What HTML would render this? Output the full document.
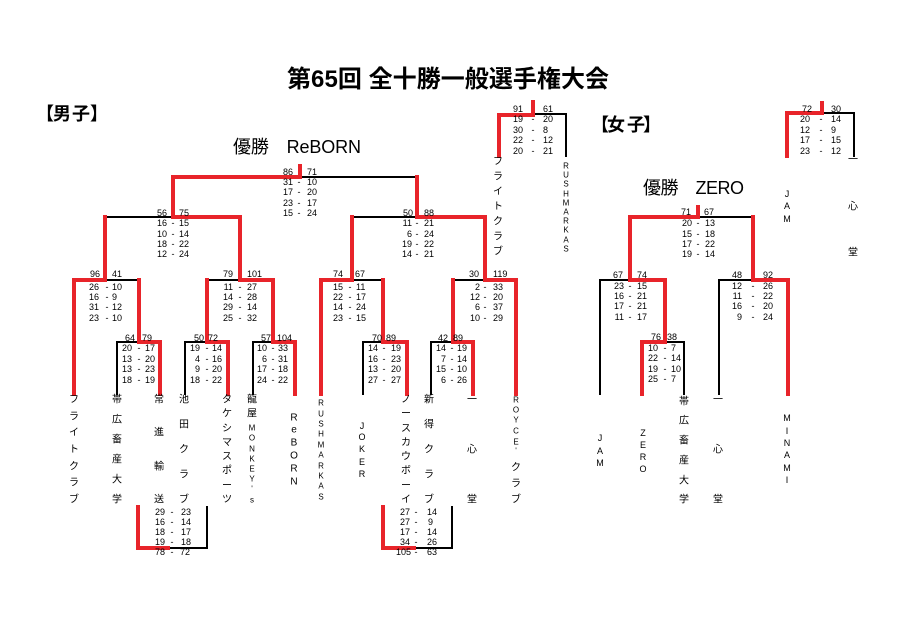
<!DOCTYPE html>
<html><head><meta charset="utf-8"><style>
html,body{margin:0;padding:0;background:#fff;}
svg{display:block;}
.n{font-family:"Liberation Sans",sans-serif;font-size:9px;fill:#000;}
.e{text-anchor:end}.m{text-anchor:middle}.s{text-anchor:start}
.v{font-family:"Liberation Sans","Noto Sans CJK JP",sans-serif;font-size:10px;text-anchor:middle;dominant-baseline:central;fill:#000;}
.vs{font-size:8px}.vm{font-size:9px}
.R{fill:none;stroke:#e8242a;stroke-width:4;stroke-linecap:square;stroke-linejoin:miter}
.K{fill:none;stroke:#000;stroke-width:2;stroke-linecap:square}
.t{font-family:"Liberation Sans","Noto Sans CJK JP",sans-serif;fill:#000;}
</style></head><body>
<svg width="900" height="636" viewBox="0 0 900 636" xmlns="http://www.w3.org/2000/svg">
<rect width="900" height="636" fill="#fff"/>

<text class="t" x="287" y="87" font-size="24" font-weight="bold" textLength="322">第65回 全十勝一般選手権大会</text>
<g class="t" font-size="18" font-weight="bold" text-anchor="middle">
<text x="45" y="120">【</text><text x="62" y="120">男</text><text x="81" y="120">子</text><text x="99" y="120">】</text>
<text x="600" y="131">【</text><text x="616" y="131">女</text><text x="636" y="131">子</text><text x="652" y="131">】</text>
</g>
<text class="t" x="233" y="153" font-size="18" textLength="128">優勝　ReBORN</text>
<text class="t" x="643" y="194" font-size="18" textLength="101">優勝　ZERO</text>

<g class="K">
<path d="M300 177 H417"/>
<path d="M105 217 H173"/>
<path d="M352 217 H417"/>
<path d="M105 280 H139"/>
<path d="M207 280 H240"/>
<path d="M351 280 H383"/>
<path d="M453 280 H485"/>
<path d="M117 394 V342 H139"/>
<path d="M185 394 V342 H207"/>
<path d="M253 394 V342 H273"/>
<path d="M363 394 V342 H383"/>
<path d="M431 394 V342 H453"/>
<path d="M533 114 H566 V156"/>
<path d="M168 548 H207 V507"/>
<path d="M414 548 H452 V507"/>
<path d="M698 217 H753"/>
<path d="M600 394 V280 H630"/>
<path d="M665 342 H684 V394"/>
<path d="M719 394 V280 H753"/>
<path d="M822 113 H854 V156"/>
</g>
<g class="R">
<path d="M300 166 V177 H173 V217 H240 V280 H273 V342 H295 V394"/>
<path d="M417 177 V217 H485 V280 H516 V394"/>
<path d="M352 217 V280 H321 V394"/>
<path d="M105 217 V280 H74 V394"/>
<path d="M139 280 V342 H160 V394"/>
<path d="M207 280 V342 H228 V394"/>
<path d="M383 280 V342 H407 V394"/>
<path d="M453 280 V342 H473 V394"/>
<path d="M533 102 V115 H499 V156"/>
<path d="M138 507 V548 H168"/>
<path d="M383 507 V548 H414"/>
<path d="M698 207 V217 H630 V280 H665 V342 H642 V394"/>
<path d="M753 217 V280 H788 V394"/>
<path d="M822 103 V113 H787 V156"/>
</g>

<g class="n">
<text class="e" x="293" y="175">86</text><text class="s" x="307" y="175">71</text>
<text class="e" x="293" y="185">31</text><text class="m" x="299" y="185">-</text><text class="s" x="307" y="185">10</text>
<text class="e" x="293" y="195">17</text><text class="m" x="299" y="195">-</text><text class="s" x="307" y="195">20</text>
<text class="e" x="293" y="206">23</text><text class="m" x="299" y="206">-</text><text class="s" x="307" y="206">17</text>
<text class="e" x="293" y="216">15</text><text class="m" x="299" y="216">-</text><text class="s" x="307" y="216">24</text>

<text class="e" x="167" y="216">56</text><text class="s" x="179" y="216">75</text>
<text class="e" x="167" y="226">16</text><text class="m" x="173" y="226">-</text><text class="s" x="179" y="226">15</text>
<text class="e" x="167" y="237">10</text><text class="m" x="173" y="237">-</text><text class="s" x="179" y="237">14</text>
<text class="e" x="167" y="247">18</text><text class="m" x="173" y="247">-</text><text class="s" x="179" y="247">22</text>
<text class="e" x="167" y="257">12</text><text class="m" x="173" y="257">-</text><text class="s" x="179" y="257">24</text>

<text class="e" x="413" y="216">50</text><text class="s" x="424" y="216">88</text>
<text class="e" x="412" y="226">11</text><text class="m" x="417" y="226">-</text><text class="s" x="424" y="226">21</text>
<text class="e" x="412" y="237">6</text><text class="m" x="417" y="237">-</text><text class="s" x="424" y="237">24</text>
<text class="e" x="412" y="247">19</text><text class="m" x="417" y="247">-</text><text class="s" x="424" y="247">22</text>
<text class="e" x="412" y="257">14</text><text class="m" x="417" y="257">-</text><text class="s" x="424" y="257">21</text>

<text class="e" x="100" y="277">96</text><text class="s" x="112" y="277">41</text>
<text class="e" x="99" y="290">26</text><text class="m" x="107" y="290">-</text><text class="s" x="112" y="290">10</text>
<text class="e" x="99" y="300">16</text><text class="m" x="107" y="300">-</text><text class="s" x="112" y="300">9</text>
<text class="e" x="99" y="310">31</text><text class="m" x="107" y="310">-</text><text class="s" x="112" y="310">12</text>
<text class="e" x="99" y="321">23</text><text class="m" x="107" y="321">-</text><text class="s" x="112" y="321">10</text>

<text class="e" x="233" y="277">79</text><text class="s" x="247" y="277">101</text>
<text class="e" x="233" y="290">11</text><text class="m" x="240" y="290">-</text><text class="s" x="247" y="290">27</text>
<text class="e" x="233" y="300">14</text><text class="m" x="240" y="300">-</text><text class="s" x="247" y="300">28</text>
<text class="e" x="233" y="310">29</text><text class="m" x="240" y="310">-</text><text class="s" x="247" y="310">14</text>
<text class="e" x="233" y="321">25</text><text class="m" x="240" y="321">-</text><text class="s" x="247" y="321">32</text>

<text class="e" x="343" y="277">74</text><text class="s" x="355" y="277">67</text>
<text class="e" x="343" y="290">15</text><text class="m" x="350" y="290">-</text><text class="s" x="356" y="290">11</text>
<text class="e" x="343" y="300">22</text><text class="m" x="350" y="300">-</text><text class="s" x="356" y="300">17</text>
<text class="e" x="343" y="310">14</text><text class="m" x="350" y="310">-</text><text class="s" x="356" y="310">24</text>
<text class="e" x="343" y="321">23</text><text class="m" x="350" y="321">-</text><text class="s" x="356" y="321">15</text>

<text class="e" x="479" y="277">30</text><text class="s" x="493" y="277">119</text>
<text class="e" x="480" y="290">2</text><text class="m" x="485" y="290">-</text><text class="s" x="493" y="290">33</text>
<text class="e" x="480" y="300">12</text><text class="m" x="485" y="300">-</text><text class="s" x="493" y="300">20</text>
<text class="e" x="480" y="310">6</text><text class="m" x="485" y="310">-</text><text class="s" x="493" y="310">37</text>
<text class="e" x="480" y="321">10</text><text class="m" x="485" y="321">-</text><text class="s" x="493" y="321">29</text>

<text class="e" x="135" y="341">64</text><text class="s" x="142" y="341">79</text>
<text class="e" x="132" y="351">20</text><text class="m" x="139" y="351">-</text><text class="s" x="145" y="351">17</text>
<text class="e" x="132" y="362">13</text><text class="m" x="139" y="362">-</text><text class="s" x="145" y="362">20</text>
<text class="e" x="132" y="372">13</text><text class="m" x="139" y="372">-</text><text class="s" x="145" y="372">23</text>
<text class="e" x="132" y="383">18</text><text class="m" x="139" y="383">-</text><text class="s" x="145" y="383">19</text>

<text class="e" x="204" y="341">50</text><text class="s" x="208" y="341">72</text>
<text class="e" x="200" y="351">19</text><text class="m" x="207" y="351">-</text><text class="s" x="212" y="351">14</text>
<text class="e" x="200" y="362">4</text><text class="m" x="207" y="362">-</text><text class="s" x="212" y="362">16</text>
<text class="e" x="200" y="372">9</text><text class="m" x="207" y="372">-</text><text class="s" x="212" y="372">20</text>
<text class="e" x="200" y="383">18</text><text class="m" x="207" y="383">-</text><text class="s" x="212" y="383">22</text>

<text class="e" x="271" y="341">57</text><text class="s" x="277" y="341">104</text>
<text class="e" x="267" y="351">10</text><text class="m" x="273" y="351">-</text><text class="s" x="278" y="351">33</text>
<text class="e" x="267" y="362">6</text><text class="m" x="273" y="362">-</text><text class="s" x="278" y="362">31</text>
<text class="e" x="267" y="372">17</text><text class="m" x="273" y="372">-</text><text class="s" x="278" y="372">18</text>
<text class="e" x="267" y="383">24</text><text class="m" x="273" y="383">-</text><text class="s" x="278" y="383">22</text>

<text class="e" x="382" y="341">70</text><text class="s" x="386" y="341">89</text>
<text class="e" x="378" y="351">14</text><text class="m" x="384" y="351">-</text><text class="s" x="391" y="351">19</text>
<text class="e" x="378" y="362">16</text><text class="m" x="384" y="362">-</text><text class="s" x="391" y="362">23</text>
<text class="e" x="378" y="372">13</text><text class="m" x="384" y="372">-</text><text class="s" x="391" y="372">20</text>
<text class="e" x="378" y="383">27</text><text class="m" x="384" y="383">-</text><text class="s" x="391" y="383">27</text>

<text class="e" x="448" y="341">42</text><text class="s" x="453" y="341">89</text>
<text class="e" x="446" y="351">14</text><text class="m" x="452" y="351">-</text><text class="s" x="457" y="351">19</text>
<text class="e" x="446" y="362">7</text><text class="m" x="452" y="362">-</text><text class="s" x="457" y="362">14</text>
<text class="e" x="446" y="372">15</text><text class="m" x="452" y="372">-</text><text class="s" x="457" y="372">10</text>
<text class="e" x="446" y="383">6</text><text class="m" x="452" y="383">-</text><text class="s" x="457" y="383">26</text>

<text class="e" x="523" y="112">91</text><text class="s" x="543" y="112">61</text>
<text class="e" x="523" y="122">19</text><text class="m" x="533" y="122">-</text><text class="s" x="543" y="122">20</text>
<text class="e" x="523" y="133">30</text><text class="m" x="533" y="133">-</text><text class="s" x="543" y="133">8</text>
<text class="e" x="523" y="143">22</text><text class="m" x="533" y="143">-</text><text class="s" x="543" y="143">12</text>
<text class="e" x="523" y="154">20</text><text class="m" x="533" y="154">-</text><text class="s" x="543" y="154">21</text>

<text class="e" x="165" y="515">29</text><text class="m" x="172" y="515">-</text><text class="s" x="181" y="515">23</text>
<text class="e" x="165" y="525">16</text><text class="m" x="172" y="525">-</text><text class="s" x="181" y="525">14</text>
<text class="e" x="165" y="535">18</text><text class="m" x="172" y="535">-</text><text class="s" x="181" y="535">17</text>
<text class="e" x="165" y="545">19</text><text class="m" x="172" y="545">-</text><text class="s" x="181" y="545">18</text>
<text class="e" x="165" y="555">78</text><text class="m" x="172" y="555">-</text><text class="s" x="180" y="555">72</text>

<text class="e" x="410" y="515">27</text><text class="m" x="416" y="515">-</text><text class="s" x="427" y="515">14</text>
<text class="e" x="410" y="525">27</text><text class="m" x="416" y="525">-</text><text class="s" x="428" y="525">9</text>
<text class="e" x="410" y="535">17</text><text class="m" x="416" y="535">-</text><text class="s" x="427" y="535">14</text>
<text class="e" x="410" y="545">34</text><text class="m" x="416" y="545">-</text><text class="s" x="427" y="545">26</text>
<text class="e" x="411" y="555">105</text><text class="m" x="416" y="555">-</text><text class="s" x="427" y="555">63</text>

<text class="e" x="812" y="112">72</text><text class="s" x="831" y="112">30</text>
<text class="e" x="810" y="122">20</text><text class="m" x="821" y="122">-</text><text class="s" x="831" y="122">14</text>
<text class="e" x="810" y="133">12</text><text class="m" x="821" y="133">-</text><text class="s" x="831" y="133">9</text>
<text class="e" x="810" y="143">17</text><text class="m" x="821" y="143">-</text><text class="s" x="831" y="143">15</text>
<text class="e" x="810" y="154">23</text><text class="m" x="821" y="154">-</text><text class="s" x="831" y="154">12</text>

<text class="e" x="691" y="215">71</text><text class="s" x="704" y="215">67</text>
<text class="e" x="692" y="226">20</text><text class="m" x="698" y="226">-</text><text class="s" x="705" y="226">13</text>
<text class="e" x="692" y="237">15</text><text class="m" x="698" y="237">-</text><text class="s" x="705" y="237">18</text>
<text class="e" x="692" y="247">17</text><text class="m" x="698" y="247">-</text><text class="s" x="705" y="247">22</text>
<text class="e" x="692" y="257">19</text><text class="m" x="698" y="257">-</text><text class="s" x="705" y="257">14</text>

<text class="e" x="623" y="278">67</text><text class="s" x="637" y="278">74</text>
<text class="e" x="624" y="289">23</text><text class="m" x="630" y="289">-</text><text class="s" x="637" y="289">15</text>
<text class="e" x="624" y="299">16</text><text class="m" x="630" y="299">-</text><text class="s" x="637" y="299">21</text>
<text class="e" x="624" y="309">17</text><text class="m" x="630" y="309">-</text><text class="s" x="637" y="309">21</text>
<text class="e" x="624" y="320">11</text><text class="m" x="630" y="320">-</text><text class="s" x="637" y="320">17</text>

<text class="e" x="661" y="340">76</text><text class="s" x="667" y="340">38</text>
<text class="e" x="658" y="351">10</text><text class="m" x="665" y="351">-</text><text class="s" x="671" y="351">7</text>
<text class="e" x="658" y="361">22</text><text class="m" x="665" y="361">-</text><text class="s" x="671" y="361">14</text>
<text class="e" x="658" y="372">19</text><text class="m" x="665" y="372">-</text><text class="s" x="671" y="372">10</text>
<text class="e" x="658" y="382">25</text><text class="m" x="665" y="382">-</text><text class="s" x="671" y="382">7</text>

<text class="e" x="742" y="278">48</text><text class="s" x="763" y="278">92</text>
<text class="e" x="742" y="289">12</text><text class="m" x="753" y="289">-</text><text class="s" x="763" y="289">26</text>
<text class="e" x="742" y="299">11</text><text class="m" x="753" y="299">-</text><text class="s" x="763" y="299">22</text>
<text class="e" x="742" y="309">16</text><text class="m" x="753" y="309">-</text><text class="s" x="763" y="309">20</text>
<text class="e" x="742" y="320">9</text><text class="m" x="753" y="320">-</text><text class="s" x="763" y="320">24</text>
</g>

<g class="v">
<text x="74" y="400">フ</text><text x="74" y="417">ラ</text><text x="74" y="433">イ</text><text x="74" y="450">ト</text><text x="74" y="467">ク</text><text x="74" y="483">ラ</text><text x="74" y="500">ブ</text>
<text x="117" y="400">帯</text><text x="117" y="420">広</text><text x="117" y="440">畜</text><text x="117" y="460">産</text><text x="117" y="480">大</text><text x="117" y="500">学</text>
<text x="159" y="400">常</text><text x="159" y="433">進</text><text x="159" y="467">輸</text><text x="159" y="500">送</text>
<text x="184" y="400">池</text><text x="184" y="425">田</text><text x="184" y="450">ク</text><text x="184" y="475">ラ</text><text x="184" y="500">ブ</text>
<text x="227" y="400">タ</text><text x="227" y="414">ケ</text><text x="227" y="429">シ</text><text x="227" y="443">マ</text><text x="227" y="457">ス</text><text x="227" y="471">ポ</text><text x="227" y="486">ー</text><text x="227" y="500">ツ</text>
<text x="252" y="400">龍</text><text x="252" y="414">屋</text>
<text class="vs" x="252" y="428">M</text><text class="vs" x="252" y="438">O</text><text class="vs" x="252" y="449">N</text><text class="vs" x="252" y="459">K</text><text class="vs" x="252" y="469">E</text><text class="vs" x="252" y="479">Y</text><text class="vs" x="252" y="489">'</text><text class="vs" x="252" y="500">s</text>
<text x="294" y="418">R</text><text x="294" y="430">e</text><text x="294" y="443">B</text><text x="294" y="456">O</text><text x="294" y="469">R</text><text x="294" y="482">N</text>
<text class="vs" x="321" y="403">R</text><text class="vs" x="321" y="414">U</text><text class="vs" x="321" y="424">S</text><text class="vs" x="321" y="434">H</text><text class="vs" x="321" y="445">M</text><text class="vs" x="321" y="455">A</text><text class="vs" x="321" y="466">R</text><text class="vs" x="321" y="476">K</text><text class="vs" x="321" y="486">A</text><text class="vs" x="321" y="497">S</text>
<text class="vm" x="362" y="426">J</text><text class="vm" x="362" y="437">O</text><text class="vm" x="362" y="449">K</text><text class="vm" x="362" y="462">E</text><text class="vm" x="362" y="474">R</text>
<text x="406" y="400">ノ</text><text x="406" y="414">ー</text><text x="406" y="429">ス</text><text x="406" y="443">カ</text><text x="406" y="457">ウ</text><text x="406" y="471">ボ</text><text x="406" y="486">ー</text><text x="406" y="500">イ</text>
<text x="429" y="400">新</text><text x="429" y="425">得</text><text x="429" y="450">ク</text><text x="429" y="475">ラ</text><text x="429" y="500">ブ</text>
<text x="472" y="400">一</text><text x="472" y="450">心</text><text x="472" y="500">堂</text>
<text class="vs" x="516" y="400">R</text><text class="vs" x="516" y="410">O</text><text class="vs" x="516" y="420">Y</text><text class="vs" x="516" y="431">C</text><text class="vs" x="516" y="442">E</text><text class="vs" x="516" y="451">'</text>
<text x="516" y="468">ク</text><text x="516" y="484">ラ</text><text x="516" y="500">ブ</text>

<text x="498" y="162">フ</text><text x="498" y="177">ラ</text><text x="498" y="192">イ</text><text x="498" y="207">ト</text><text x="498" y="222">ク</text><text x="498" y="237">ラ</text><text x="498" y="252">ブ</text>
<text class="vs" x="566" y="166">R</text><text class="vs" x="566" y="175">U</text><text class="vs" x="566" y="184">S</text><text class="vs" x="566" y="194">H</text><text class="vs" x="566" y="203">M</text><text class="vs" x="566" y="212">A</text><text class="vs" x="566" y="221">R</text><text class="vs" x="566" y="230">K</text><text class="vs" x="566" y="240">A</text><text class="vs" x="566" y="249">S</text>

<text class="vm" x="787" y="194">J</text><text class="vm" x="787" y="206">A</text><text class="vm" x="787" y="219">M</text>
<text x="853" y="160">一</text><text x="853" y="207">心</text><text x="853" y="253">堂</text>

<text class="vm" x="600" y="438">J</text><text class="vm" x="600" y="451">A</text><text class="vm" x="600" y="463">M</text>
<text class="vm" x="643" y="433">Z</text><text class="vm" x="643" y="445">E</text><text class="vm" x="643" y="457">R</text><text class="vm" x="643" y="469">O</text>
<text x="684" y="402">帯</text><text x="684" y="421">広</text><text x="684" y="441">畜</text><text x="684" y="461">産</text><text x="684" y="481">大</text><text x="684" y="500">学</text>
<text x="718" y="400">一</text><text x="718" y="450">心</text><text x="718" y="500">堂</text>
<text class="vm" x="787" y="418">M</text><text class="vm" x="787" y="431">I</text><text class="vm" x="787" y="443">N</text><text class="vm" x="787" y="455">A</text><text class="vm" x="787" y="468">M</text><text class="vm" x="787" y="480">I</text>
</g>
</svg>
</body></html>
